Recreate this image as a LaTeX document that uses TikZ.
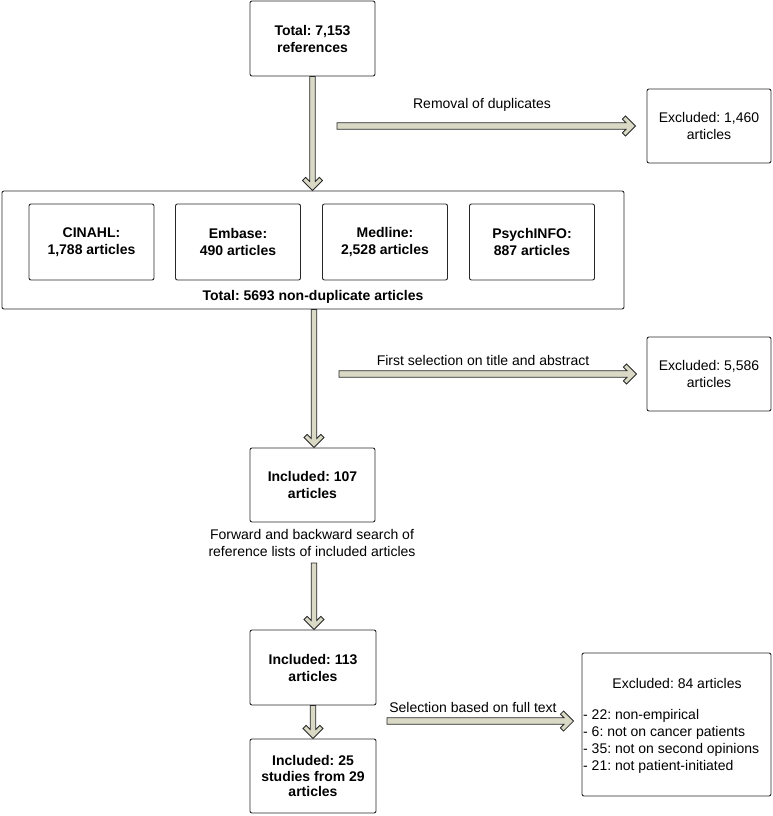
\documentclass[tikz,border=0pt]{standalone}
\usepackage{fontspec}
\setmainfont{Liberation Sans}
\usetikzlibrary{calc}
\frenchspacing
\definecolor{shaft}{RGB}{217,217,198}
\definecolor{edge}{RGB}{40,40,40}
\newcommand\vfat[2]{\draw[fat] let \p1=(#1), \p2=(#2) in
 (\x1-2.8pt,\y1) -- (\x1-2.8pt,\y2+9.16pt) -- (\x1-6.82pt,\y2+13.18pt) -- (\x1-10pt,\y2+10pt) -- (\x1,\y2) -- (\x1+10pt,\y2+10pt) -- (\x1+6.82pt,\y2+13.18pt) -- (\x1+2.8pt,\y2+9.16pt) -- (\x1+2.8pt,\y1) -- cycle;}
\newcommand\hfat[2]{\draw[fat] let \p1=(#1), \p2=(#2) in
 (\x1,\y1+3.2pt) -- (\x2-9.56pt,\y1+3.2pt) -- (\x2-13.18pt,\y1+6.82pt) -- (\x2-10pt,\y1+10pt) -- (\x2,\y1) -- (\x2-10pt,\y1-10pt) -- (\x2-13.18pt,\y1-6.82pt) -- (\x2-9.56pt,\y1-3.2pt) -- (\x1,\y1-3.2pt) -- cycle;}
\tikzset{
  box/.style={draw=edge, line width=0.9pt, rounded corners=2pt, align=center, inner sep=0pt},
  boldbox/.style={box, font=\fontsize{14}{17}\selectfont\bfseries},
  dbbox/.style={boldbox, minimum width=125, minimum height=76},
  fat/.style={draw=edge, line width=0.8pt, fill=shaft, line join=miter},
  lbl/.style={inner sep=0pt, align=center}
}
\begin{document}
\begin{tikzpicture}[x=1pt, y=-1pt, font=\fontsize{14}{17}\selectfont]
\useasboundingbox (0,0) rectangle (773,816);

% main column
\node[boldbox, minimum width=125, minimum height=75] (top) at (312.5,38.5) {Total: 7,153\\references};

\node[box, minimum width=622, minimum height=118] (big) at (313,250) {};
\node[dbbox] (cin) at (91.5,242) {CINAHL:\\1,788 articles};
\node[dbbox] (emb) at (238,242) {Embase:\\490 articles};
\node[dbbox] (med) at (385,242) {Medline:\\2,528 articles};
\node[dbbox] (psy) at (532,242) {PsychINFO:\\887 articles};
\node[lbl, font=\fontsize{14}{17}\selectfont\bfseries] (tot) at (313,297) {Total: 5693 non-duplicate articles};

\node[boldbox, minimum width=125, minimum height=74] (inc1) at (312.5,485) {Included: 107\\articles};
\node[lbl] (fwd) at (312,542.5) {Forward and backward search of\\reference lists of included articles};
\coordinate (fwdend) at (314,563);
\node[boldbox, minimum width=126, minimum height=75] (inc2) at (313,667.5) {Included: 113\\articles};
\node[boldbox, minimum width=126, minimum height=74, font=\fontsize{14}{15.5}\selectfont\bfseries] (inc3) at (313,776) {Included: 25\\studies from 29\\articles};

% excluded boxes
\node[box, minimum width=124, minimum height=74] (ex1) at (709,126) {Excluded: 1,460\\articles};
\node[box, minimum width=124, minimum height=74] (ex2) at (709,374) {Excluded: 5,586\\articles};
\node[box, minimum width=189, minimum height=143] (ex3) at (676.5,724.5) {};
\node[lbl] (ex3t) at (677,683) {Excluded: 84 articles};
\node[lbl, anchor=west, align=left] (ex3l) at (583,741.5) {- 22: non-empirical\\- 6: not on cancer patients\\- 35: not on second opinions\\- 21: not patient-initiated};

% side arrow labels and starts
\node[lbl] (l1) at (482,105) {Removal of duplicates};
\coordinate (s1) at (337,126);
\node[lbl] (l2) at (483,360) {First selection on title and abstract};
\coordinate (s2) at (339,374);
\node[lbl] (l3) at (473,707) {Selection based on full text};
\coordinate (s3) at (387,721);

% vertical arrows
\vfat{top.south}{big.north}
\vfat{$(big.south)+(1,0)$}{inc1.north}
\vfat{fwdend}{inc2.north}
\vfat{inc2.south}{inc3.north}

% horizontal arrows
\hfat{s1}{$(ex1.west)+(-11,0)$}
\hfat{s2}{$(ex2.west)+(-10,0)$}
\hfat{s3}{$(ex3.west)+(-8,0)$}
\end{tikzpicture}
\end{document}
